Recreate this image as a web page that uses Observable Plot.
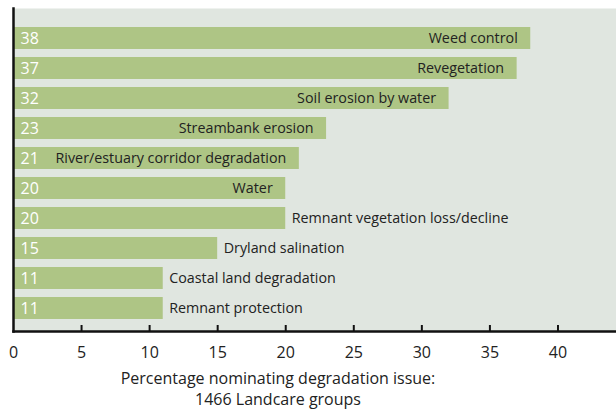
<!DOCTYPE html>
<html><head><meta charset="utf-8">
<script src="https://cdn.jsdelivr.net/npm/d3@7"></script>
<script src="https://cdn.jsdelivr.net/npm/@observablehq/plot@0.6"></script>
<style>
body{margin:0;background:#fff;font-family:"Open Sans",sans-serif;}
#cap{width:556px;text-align:center;font-size:16px;line-height:21px;color:#222;margin-top:6px}
</style></head><body>
<div id="chart"></div>
<div id="cap">Percentage nominating degradation issue:<br>1466 Landcare groups</div>
<script>
const issues = ["Weed control","Revegetation","Soil erosion by water","Streambank erosion","River/estuary corridor degradation","Water","Remnant vegetation loss/decline","Dryland salination","Coastal land degradation","Remnant protection"];
const values = [38,37,32,23,21,20,20,15,11,11];
const labelInside = [true,true,true,true,true,true,false,false,false,false];
const xTicks = [0,5,10,15,20,25,30,35,40];
const data = issues.map((d,i)=>({issue:d, value:values[i], inside:labelInside[i]}));
const plot = Plot.plot({
  width:616, height:362, marginTop:8, marginBottom:31, marginLeft:13, marginRight:0,
  style:{fontFamily:"Open Sans", fontSize:"16px", background:"white", color:"#222"},
  x:{domain:[0,44.3]},
  y:{domain:issues, range:[26,319], paddingInner:0.27, paddingOuter:0, axis:null},
  marks:[
    Plot.frame({fill:"#e0e6e0", stroke:null}),
    Plot.barX(data,{x:"value", y:"issue", fill:"#aec585"}),
    Plot.text(data,{x:0,y:"issue",text:"value",textAnchor:"start",dx:7,fill:"white",fontSize:16}),
    Plot.text(data.filter(d=>d.inside),{x:"value",y:"issue",text:"issue",textAnchor:"end",dx:-13,fill:"#222",fontSize:14.3}),
    Plot.text(data.filter(d=>!d.inside),{x:"value",y:"issue",text:"issue",textAnchor:"start",dx:6,fill:"#222",fontSize:14.3}),
    Plot.ruleX(xTicks.slice(1),{insetTop:317, stroke:"#111", strokeWidth:2}),
    Plot.axisX(xTicks,{tickSize:0,tickPadding:15,fontSize:16,label:null}),
    Plot.frame({anchor:"bottom",stroke:"#111",strokeWidth:2.5}),
    Plot.frame({anchor:"left",stroke:"#111",strokeWidth:2.5})
  ]
});
document.getElementById("chart").append(plot);
</script>
</body></html>
